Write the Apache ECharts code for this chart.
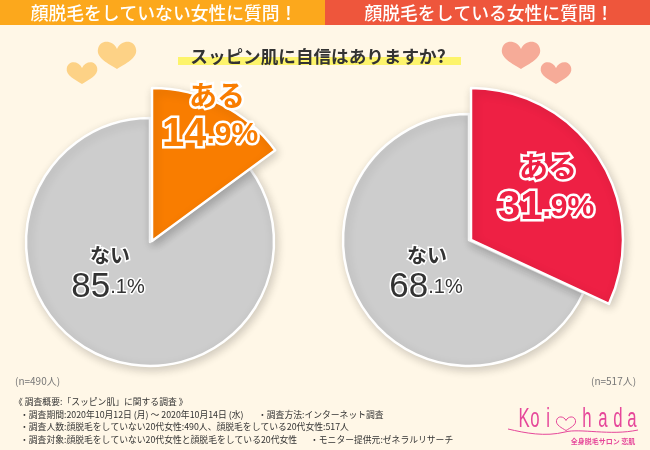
<!DOCTYPE html>
<html>
<head>
<meta charset="utf-8">
<style>
  html, body { margin: 0; padding: 0; background: #fff7e7; }
  #chart { width: 650px; height: 450px; }
</style>
<script src="https://cdn.jsdelivr.net/npm/echarts@6/dist/echarts.min.js"></script>
</head>
<body>
<div id="chart"></div>
<script>
var categories = ['ある', 'ない']
var leftValues = [14.9, 85.1]
var rightValues = [31.9, 68.1]
var leftHeader = '顔脱毛をしていない女性に質問！'
var rightHeader = '顔脱毛をしている女性に質問！'
var question = 'スッピン肌に自信はありますか?'
var leftCount = '(n=490人)'
var rightCount = '(n=517人)'
var notes = [
  '《 調査概要:「スッピン肌」に関する調査 》',
  '・調査期間:2020年10月12日 (月) ～ 2020年10月14日 (水)',
  '・調査人数:顔脱毛をしていない20代女性:490人、顔脱毛をしている20代女性:517人',
  '・調査対象:顔脱毛をしていない20代女性と顔脱毛をしている20代女性',
]
var notesExtra = ['・調査方法:インターネット調査', '・モニター提供元:ゼネラルリサーチ']

var JP = '"Noto Sans CJK JP", sans-serif'
var PINK = '#e6479a'

echarts.graphic.registerShape('heart', echarts.graphic.extendPath(
  'M0,-5 C-4,-14 -17,-15 -19,-5 C-21,4 -8,10 0,15 C8,10 21,4 19,-5 C17,-15 4,-14 0,-5 Z', {}))
echarts.graphic.registerShape('swoosh', echarts.graphic.extendPath(
  'M508,429 C525,433 545,437 565,432 C580,428 610,436 638,430', {}))

function pieSeries(values, center, radius, highlight, color) {
  return {
    type: 'pie',
    center: center,
    radius: radius,
    startAngle: 90,
    clockwise: true,
    animation: false,
    silent: true,
    label: { show: false },
    labelLine: { show: false },
    data: values.map(function (v, i) {
      var on = i === highlight
      return {
        name: categories[i],
        value: v,
        itemStyle: on ? {
          color: color,
          borderColor: '#fff',
          borderWidth: 2.5,
          shadowBlur: 10,
          shadowOffsetX: 2,
          shadowOffsetY: 3,
          shadowColor: 'rgba(0,0,0,0.18)',
        } : { color: 'transparent', borderWidth: 0 },
      }
    }),
  }
}

// o: name position, number position, font sizes, halo width
function bigLabel(o, name, value, color) {
  var parts = String(value).split('.')
  var base = {
    fontFamily: '"Liberation Sans", sans-serif',
    fontWeight: o.bold ? 'bold' : 'normal',
    fill: color,
    stroke: '#fff',
    lineWidth: o.halo,
  }
  return [
    {
      type: 'text', x: o.nameX, y: o.nameY, z: 20,
      style: {
        text: name, fontFamily: JP, fontWeight: 'bold', fontSize: o.nameSize,
        fill: color, stroke: '#fff', lineWidth: o.halo,
        align: 'center', verticalAlign: 'middle',
      },
    },
    {
      type: 'text', x: o.numX, y: o.numY, z: 20,
      style: {
        text: '{a|' + parts[0] + '}{b|.' + parts[1] + '%}',
        align: 'center', verticalAlign: 'middle',
        rich: {
          a: Object.assign({ fontSize: o.sizeA }, base),
          b: Object.assign({ fontSize: o.sizeB }, base),
        },
      },
    },
  ]
}

function heart(x, y, scale, color) {
  return { type: 'heart', x: x, y: y, scaleX: scale, scaleY: scale, z: 3, style: { fill: color } }
}

function noteText(x, y, text) {
  return {
    type: 'text', x: x, y: y, z: 10,
    style: { text: text, fontFamily: JP, fontSize: 8.8, fill: '#333', verticalAlign: 'middle' },
  }
}

var logoLetters = [['K', 524], ['o', 535], ['i', 548], ['h', 587], ['a', 603], ['d', 618], ['a', 632]]

var elements = [
  { type: 'rect', shape: { x: 0, y: 0, width: 325, height: 25 }, style: { fill: '#fca81c' } },
  { type: 'rect', shape: { x: 325, y: 0, width: 325, height: 25 }, style: { fill: '#ee563c' } },
  {
    type: 'text', x: 164, y: 13, z: 5,
    style: { text: leftHeader, fontFamily: JP, fontWeight: 500, fontSize: 17.8, fill: '#fff', align: 'center', verticalAlign: 'middle' },
  },
  {
    type: 'text', x: 489, y: 13, z: 5,
    style: { text: rightHeader, fontFamily: JP, fontWeight: 500, fontSize: 17.8, fill: '#fff', align: 'center', verticalAlign: 'middle' },
  },
  { type: 'rect', shape: { x: 178, y: 57, width: 283, height: 8 }, z: 2, style: { fill: '#fdf46b' } },
  {
    type: 'text', x: 318, y: 56, z: 5,
    style: { text: question, fontFamily: JP, fontWeight: 'bold', fontSize: 17.6, fill: '#333', align: 'center', verticalAlign: 'middle' },
  },
  heart(117, 54, 1.0, '#fdd286'),
  heart(82, 72, 0.8, '#fdd286'),
  heart(521, 54, 1.0, '#f6ab98'),
  heart(556, 72, 0.8, '#f6ab98'),
  {
    type: 'text', x: 15, y: 381, z: 10,
    style: { text: leftCount, fontFamily: JP, fontSize: 10, fill: '#777', verticalAlign: 'middle' },
  },
  {
    type: 'text', x: 591, y: 381, z: 10,
    style: { text: rightCount, fontFamily: JP, fontSize: 10, fill: '#777', verticalAlign: 'middle' },
  },
  noteText(14, 402, notes[0]),
  noteText(20, 415, notes[1]),
  noteText(20, 427, notes[2]),
  noteText(20, 440, notes[3]),
  noteText(258, 415, notesExtra[0]),
  noteText(310, 440, notesExtra[1]),
  { type: 'swoosh', z: 10, style: { fill: 'none', stroke: PINK, lineWidth: 1 } },
  { type: 'heart', x: 566, y: 423, scaleX: 0.5, scaleY: 0.5, z: 10, style: { fill: 'none', stroke: PINK, lineWidth: 2 } },
  {
    type: 'text', x: 603, y: 441, z: 10,
    style: { text: '全身脱毛サロン 恋肌', fontFamily: JP, fontSize: 7, fontWeight: 'bold', fill: PINK, align: 'center', verticalAlign: 'middle' },
  },
]

logoLetters.forEach(function (item) {
  elements.push({
    type: 'text', x: item[1], y: 420, scaleX: 0.62, z: 10,
    style: { text: item[0], fontFamily: '"Liberation Sans", sans-serif', fontSize: 27, fill: PINK, align: 'center', verticalAlign: 'middle' },
  })
})

elements = elements
  .concat(bigLabel({ nameX: 217, nameY: 95, nameSize: 28, numX: 210, numY: 135, sizeA: 40, sizeB: 30, halo: 5, bold: true }, categories[0], leftValues[0], '#f97d00'))
  .concat(bigLabel({ nameX: 548, nameY: 167, nameSize: 29, numX: 546, numY: 208, sizeA: 40, sizeB: 30, halo: 5, bold: true }, categories[0], rightValues[0], '#ee2044'))
  .concat(bigLabel({ nameX: 110, nameY: 255, nameSize: 20, numX: 108, numY: 287, sizeA: 35, sizeB: 20, halo: 3 }, categories[1], leftValues[1], '#333'))
  .concat(bigLabel({ nameX: 427, nameY: 255, nameSize: 20, numX: 426, numY: 287, sizeA: 35, sizeB: 20, halo: 3 }, categories[1], rightValues[1], '#333'))

var chart = echarts.init(document.getElementById('chart'))
chart.setOption({
  backgroundColor: '#fff7e7',
  animation: false,
  series: [
    pieSeries(leftValues, [150, 242], 124, 1, '#cdcdcd'),
    pieSeries(leftValues, [152, 241], 153, 0, '#f97d00'),
    pieSeries(rightValues, [469, 240], 126, 1, '#cdcdcd'),
    pieSeries(rightValues, [471, 240], 152, 0, '#ee2044'),
  ],
  graphic: { elements: elements },
})
</script>
</body>
</html>
